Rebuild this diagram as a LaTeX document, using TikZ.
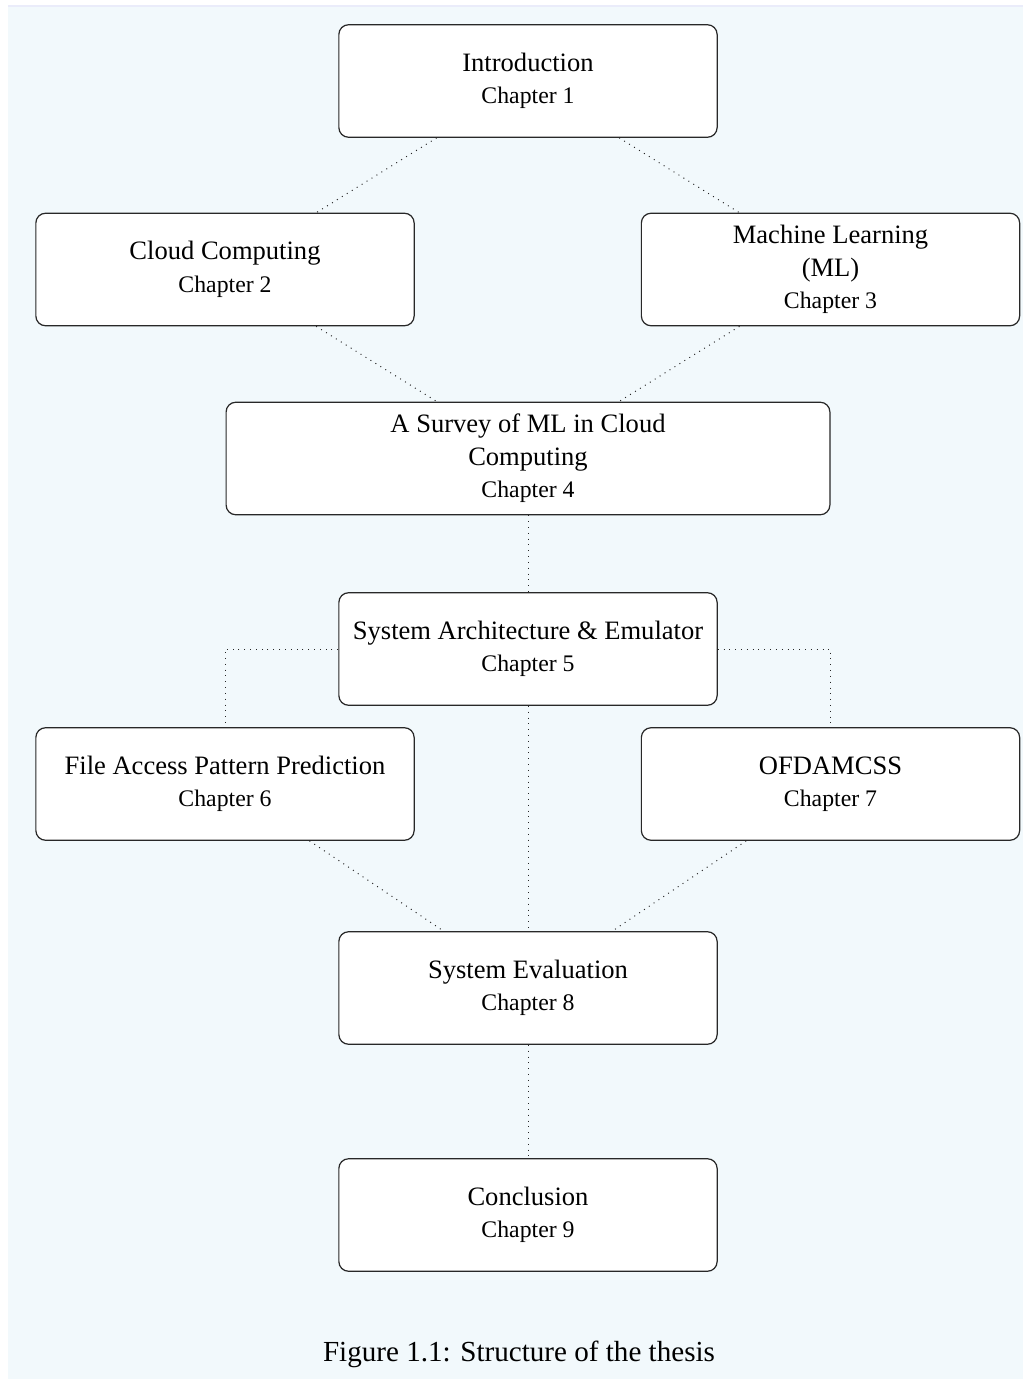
\documentclass[tikz,border=0pt]{standalone}
\usepackage{fontspec}
\setmainfont{Liberation Serif}
\definecolor{pagebg}{RGB}{242,249,252}
\definecolor{pageedge}{RGB}{234,236,250}
\definecolor{boxline}{RGB}{40,40,40}
\newcommand{\chapline}[1]{{\fontsize{9.8pt}{13.4pt}\selectfont #1}}
\begin{document}
\begin{tikzpicture}[x=0.4124pt,y=-0.4124pt,
  chapbox/.style={draw=boxline, line width=0.5pt, fill=white, rounded corners=4pt,
    minimum width=156pt, minimum height=46.4pt, inner sep=0pt, align=center,
    font=\fontsize{10.95pt}{13.4pt}\selectfont},
  widebox/.style={chapbox, minimum width=249pt},
  link/.style={draw=black!85, line width=0.4pt, dotted}]
  % page and its tinted panel
  \useasboundingbox (0,0) rectangle (1023,1379);
  \fill[white] (0,0) rectangle (1023,1379);
  \fill[pagebg] (8,6) rectangle (1023,1379);
  \draw[pageedge, line width=0.5pt] (8,6) -- (1023,6);

  % chapters
  \node[chapbox] (intro) at (528,81) {Introduction\\\chapline{Chapter 1}};
  \node[chapbox] (cloud) at (225,269.5) {Cloud Computing\\\chapline{Chapter 2}};
  \node[chapbox] (ml) at (830.5,269.5) {Machine Learning\\(ML)\\\chapline{Chapter 3}};
  \node[widebox] (survey) at (528,458.5) {A Survey of ML in Cloud\\Computing\\\chapline{Chapter 4}};
  \node[chapbox] (arch) at (528,649) {System Architecture \& Emulator\\\chapline{Chapter 5}};
  \node[chapbox] (fapp) at (225,784) {File Access Pattern Prediction\\\chapline{Chapter 6}};
  \node[chapbox] (ofd) at (830.5,784) {OFDAMCSS\\\chapline{Chapter 7}};
  \node[chapbox] (eval) at (528,988) {System Evaluation\\\chapline{Chapter 8}};
  \node[chapbox] (concl) at (528,1215) {Conclusion\\\chapline{Chapter 9}};

  % dependencies between chapters
  \draw[link] (intro) -- (cloud);
  \draw[link] (intro) -- (ml);
  \draw[link] (cloud) -- (survey);
  \draw[link] (ml) -- (survey);
  \draw[link] (survey) -- (arch);
  \draw[link] (arch) -| (fapp);
  \draw[link] (arch) -| (ofd);
  \draw[link] (arch) -- (eval);
  \draw[link] (fapp) -- (eval);
  \draw[link] (ofd) -- (eval);
  \draw[link] (eval) -- (concl);

  % caption
  \node[anchor=base, inner sep=0pt, font=\fontsize{12pt}{14pt}\selectfont] (caption) at (519,1361)
    {Figure 1.1: Structure of the thesis};
\end{tikzpicture}
\end{document}
